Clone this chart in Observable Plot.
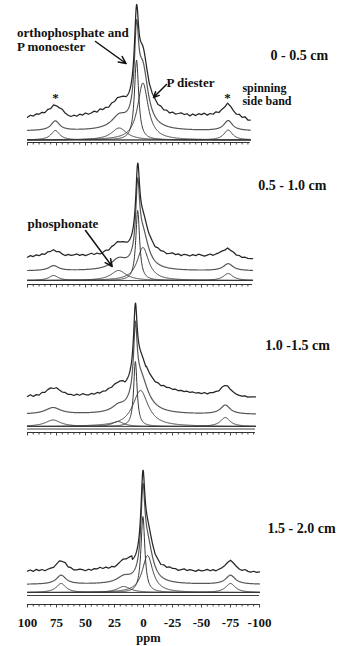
<!DOCTYPE html>
<html><head><meta charset="utf-8">
<script src="https://cdn.jsdelivr.net/npm/d3@7"></script>
<script src="https://cdn.jsdelivr.net/npm/@observablehq/plot@0.6"></script>
<style>
html,body{margin:0;padding:0;background:#fff;}
#chart{width:340px;height:646px;overflow:hidden;background:#fff;}
</style></head><body><div id="chart"></div>
<script>
// ---- data ----
const depths = ["0 - 0.5 cm", "0.5 - 1.0 cm", "1.0 -1.5 cm", "1.5 - 2.0 cm"];
// fitted components per depth: [position (ppm), height, half-width (ppm)]
const ssbLeft     = [[76, 9.5, 4.5], [77.5, 5, 5], [78, 6.5, 8], [71, 9, 5]];
const ssbRight    = [[-73, 10, 4.5], [-73, 7, 5], [-70.5, 9, 5], [-75, 9, 5]];
const phosphonate = [[21, 12, 8], [21.5, 10, 8], [22, 5, 6], [17, 6, 7]];
const orthoMono   = [[6, 80, 2.2], [5, 70, 2], [7, 65, 1.8], [0.5, 76, 2]];
const diester     = [[0.5, 57, 5.5], [0.5, 33, 6], [2.6, 36, 8], [-3.5, 37, 5.5]];
// vertical offsets of the fitted sum and of the measured spectrum
const fitOffset = [9, 9.5, 12, 8];
const expOffset = [24, 24.3, 30, 21];
// measured-spectrum residuals (noise), every 2.5 ppm from 100 to -100
const noise1 = [-2,0,-1,1,0.5,2,1,3,1.5,2, 0.5,1.5,2.5,0,-1.5,-2.5,-1,-2,0,-1, 1,-0.5,0.5,2,0.5,3,1.5,2.5,1,2.5, 1,2,1,1.5,0,0,0,0,0,0, 0,0,0,1.5,2.5,1,2,0,1,-1, 0.5,-1,0,1,-0.5,0.5,-1.5,0.5,-1,1, 0,1.5,-0.5,1,0,2,0.5,2,1.5,2.5, 1,0,-1.5,-0.5,-3,-2,-5,-5,-5,-5,-5];
const noise2 = [-1.5,0,-1,0.5,-0.5,1,0,1.5,0.5,1, 0,1.5,0,-1,0.5,-0.5,0,1,-0.5,0.5, -1,0,1,-0.5,0.5,-1,0,1,-0.5,1, 0.5,1.5,0.5,1,0.5, 0,0,0,0,0,0,0, 0.5,1,-0.5,1,0,0.5,-1,0,1,-0.5, 0.5,-1,0.5,0,-1,0.5,-0.5,1,0,-1, 0,1,-0.5,0.5,1,1.5,0.5,1,-0.5,0, -1.5,-1,-2.5,-2,-3,-3,-3,-3,-3];
const noise3 = [-1,0.5,-1.5,0,-1,1,0,1.5,2,1, 2.5,1.5,0.5,1,-0.5,0,-1,0.5,-0.5,1, 0,-0.5,1,0,1.5,0.5,2,1.5,3,2.5, 3.5,3,3.5,2.5, 0,0,0,0,0,0,0, 2,3,4,3.5,5,4,5.5,4.5,5,4, 4.5,3.5,4,3,3.5,2.5,3,2,2.5,1.5, 2.5,1,2,1.5,2,1,2,1.5,2.5,1.5, 1,0,-0.5,-1,-0.5,-1.5,-1,-1,-1,-1];
const noise4 = [0,1,-0.5,1.5,0,1,-0.5,0.5,1,0.5, 1.5,2,1,2.5,0.5,1,-0.5,0,1,0.5, -0.5,1,0,1.5,1,2.5,1,2,0.5,1.5, 0,1,2,3,2.5,4,4, 0,0,0,0,0,0,0, -1,0,-1.5,0.5,-0.5,1,0,0.5,-1,0, 1,-0.5,0.5,0,-1,0.5,-0.5,0,1,-0.5, 0.5,-1,0,0.5,1,1.5,2,1,0.5,-0.5, -1,0.5,-1,-1.5,-0.5,-1.5,-1];
const tickLabels = [100, 75, 50, 25, 0, -25, -50, -75, -100];
const annotations = ["orthophosphate and\nP monoester", "P diester", "spinning\nside band", "phosphonate"];

// ---- layout (positions, not data) ----
const layout = {
  compBase: [139.5, 280, 426, 592],
  extraLine: [null, null, 428.5, 595],
  axisY: [142, 284, 432, 604],
  xEnd: [-92, -94, -96.5, -100],
  depthPos: [[-109.5, 55], [-99, 185], [-105, 345], [-107, 528]],
  notePos: [[109, 39], [-19.8, 82], [-85.3, 94.3], [100, 223]],
  noteSize: [13, 13, 12, 13],
  noteLineHeight: [1.1, 1, 1.08, 1],
  arrows: [[41.4, 41, 15, 63], [-19.8, 84, -8.6, 97], [50, 230, 27, 266]],
  stars: [[75.9, 97], [-72.4, 97]],
  tickLabelY: 622,
  unitPos: [-4.3, 637.5]
};
const noise = [noise1, noise2, noise3, noise4];

const lor = (p, c) => c[1] / (1 + ((p - c[0]) / c[2]) ** 2);
const compRows = [], fitRows = [], expRows = [], axisRows = [], tickRows = [], extraRows = [];
[0, 1, 2, 3].forEach(k => {
  const comps = [ssbLeft[k], ssbRight[k], phosphonate[k], orthoMono[k], diester[k]];
  const base = layout.compBase[k], end = layout.xEnd[k];
  const model = p => d3.sum(comps, c => lor(p, c));
  const fine = d3.range(100, end - 1e-9, -0.25);
  if (fine[fine.length - 1] !== end) fine.push(end);
  comps.forEach((c, j) => fine.forEach(p => compRows.push({key: k + "-" + j, ppm: p, y: base - lor(p, c)})));
  fine.forEach(p => fitRows.push({key: k, ppm: p, y: base - fitOffset[k] - model(p)}));
  const nz = noise[k], ctr = orthoMono[k][0], win = 9;
  const pts = [];
  for (let i = 0; i <= 80; i++) {
    const p = 100 - 2.5 * i;
    if (p >= end && Math.abs(p - ctr) > win) pts.push([p, nz[i] || 0]);
  }
  fine.forEach(p => { if (Math.abs(p - ctr) <= win) pts.push([p, 0]); });
  if (!pts.some(d => d[0] === end)) pts.push([end, nz[Math.min(80, Math.round((100 - end) / 2.5))] || 0]);
  pts.sort((a, b) => b[0] - a[0]);
  pts.forEach(([p, v]) => expRows.push({key: k, ppm: p, y: base - expOffset[k] - model(p) - v}));
  axisRows.push({x1: 100, x2: end, y: layout.axisY[k]});
  if (layout.extraLine[k] != null) extraRows.push({x1: 100, x2: end, y: layout.extraLine[k]});
  d3.range(100, end - 1e-9, -5).forEach(t => tickRows.push({x: t, y1: layout.axisY[k], y2: layout.axisY[k] + (t % 25 === 0 ? 3.5 : 2.5)}));
});

const serif = '"Liberation Serif", "Times New Roman", Times, serif';
const txt = {fontFamily: serif, fontWeight: "bold", fill: "#111"};

const chart = Plot.plot({
  width: 340, height: 646, margin: 0,
  x: {domain: [100, -100], range: [27, 259], axis: null},
  y: {domain: [0, 646], range: [0, 646], axis: null},
  style: {background: "#fff"},
  marks: [
    Plot.ruleY(axisRows, {x1: "x1", x2: "x2", y: "y", stroke: "#333", strokeWidth: 1.1}),
    Plot.ruleY(extraRows, {x1: "x1", x2: "x2", y: "y", stroke: "#444", strokeWidth: 1}),
    Plot.ruleX(tickRows, {x: "x", y1: "y1", y2: "y2", stroke: "#333", strokeWidth: 0.9}),
    Plot.line(compRows, {x: "ppm", y: "y", z: "key", stroke: "#383838", strokeWidth: 1}),
    Plot.line(fitRows, {x: "ppm", y: "y", z: "key", stroke: "#585858", strokeWidth: 1.2}),
    Plot.line(expRows, {x: "ppm", y: "y", z: "key", stroke: "#262626", strokeWidth: 1.25}),
    Plot.text(depths, {x: (d, i) => layout.depthPos[i][0], y: (d, i) => layout.depthPos[i][1], text: d => d, textAnchor: "start", fontSize: 14, ...txt}),
    ...annotations.map((a, i) => Plot.text([a], {x: layout.notePos[i][0], y: layout.notePos[i][1], text: d => d, textAnchor: "start", lineHeight: layout.noteLineHeight[i], fontSize: layout.noteSize[i], ...txt})),
    Plot.arrow(layout.arrows, {x1: d => d[0], y1: d => d[1], x2: d => d[2], y2: d => d[3], stroke: "#111", strokeWidth: 1.5, headLength: 8, headAngle: 50}),
    Plot.text(layout.stars, {x: d => d[0], y: d => d[1], text: () => "*", fontSize: 13, ...txt}),
    Plot.text(tickLabels, {x: d => d, y: layout.tickLabelY, text: d => String(d), fontSize: 13, ...txt}),
    Plot.text(["ppm"], {x: layout.unitPos[0], y: layout.unitPos[1], text: d => d, fontSize: 12.5, ...txt})
  ]
});
document.getElementById("chart").appendChild(chart);
</script>
</body></html>
